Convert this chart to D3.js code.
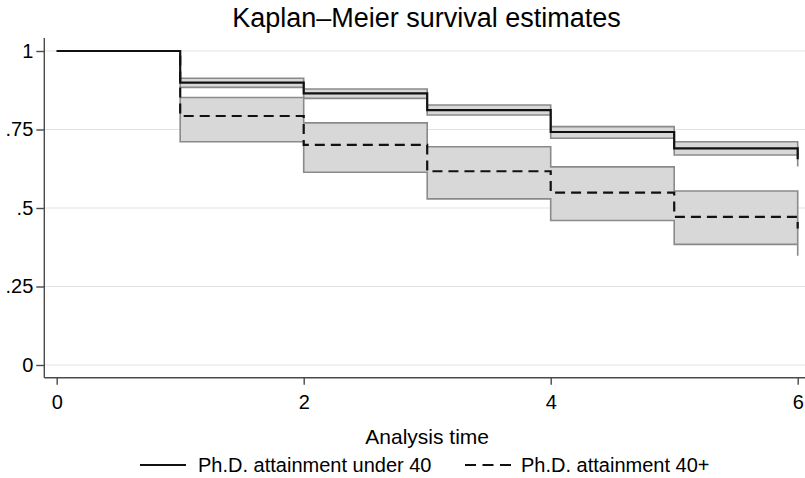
<!DOCTYPE html>
<html>
<head>
<meta charset="utf-8">
<script src="https://cdn.jsdelivr.net/npm/d3@7"></script>
<style>
  body { margin: 0; background: #fff; }
  text { font-family: "Liberation Sans", Arial, sans-serif; fill: #000; }
</style>
</head>
<body>
<script>
// Kaplan-Meier estimates
const times = [0, 1, 2, 3, 4, 5, 6];

// Ph.D. attainment under 40
const survUnder40 = [1, 0.899, 0.865, 0.812, 0.742, 0.690, 0.655];
const lowUnder40  = [null, 0.884, 0.849, 0.796, 0.722, 0.669, 0.632];
const highUnder40 = [null, 0.913, 0.879, 0.828, 0.759, 0.711, 0.680];

// Ph.D. attainment 40+
const surv40plus = [1, 0.793, 0.701, 0.617, 0.549, 0.472, 0.435];
const low40plus  = [null, 0.711, 0.614, 0.529, 0.460, 0.384, 0.348];
const high40plus = [null, 0.852, 0.771, 0.695, 0.631, 0.554, 0.520];

const xTicks = [0, 2, 4, 6];
const yTicks = [0, 0.25, 0.5, 0.75, 1];
const yTickLabels = ["0", ".25", ".5", ".75", "1"];

const groups = [
    { name: "Ph.D. attainment under 40", surv: survUnder40, low: lowUnder40, high: highUnder40, dash: null },
    { name: "Ph.D. attainment 40+", surv: surv40plus, low: low40plus, high: high40plus, dash: "10,6" }
];

const width = 805;
const height = 478;

const svg = d3.select("body")
    .append("svg")
    .attr("width", width)
    .attr("height", height);

// Scales
const x = d3.scaleLinear().domain([0, 6]).range([56.7, 797.7]);
const y = d3.scaleLinear().domain([0, 1]).range([365, 51]);

const plotLeft = 44.3, plotRight = 805, plotTop = 38, plotBottom = 377.7;

// Gridlines
svg.append("g")
    .selectAll("line")
    .data(yTicks)
    .join("line")
    .attr("x1", plotLeft)
    .attr("x2", plotRight)
    .attr("y1", d => y(d))
    .attr("y2", d => y(d))
    .attr("stroke", "#e3e3e3")
    .attr("stroke-width", 1);

// Confidence bands
const band = d3.area()
    .defined(d => d.low != null)
    .x(d => x(d.t))
    .y0(d => y(d.low))
    .y1(d => y(d.high))
    .curve(d3.curveStepAfter);

groups.forEach(g => {
    const pts = times.map((t, i) => ({ t: t, low: g.low[i], high: g.high[i] }));
    svg.append("path")
        .datum(pts)
        .attr("d", band)
        .attr("fill", "#d8d8d8")
        .attr("stroke", "#8a8a8a")
        .attr("stroke-width", 1.6);
});

// Survival step lines
const step = d3.line()
    .x(d => x(d.t))
    .y(d => y(d.s))
    .curve(d3.curveStepAfter);

groups.forEach(g => {
    const pts = times.map((t, i) => ({ t: t, s: g.surv[i] }));
    svg.append("path")
        .datum(pts)
        .attr("d", step)
        .attr("fill", "none")
        .attr("stroke", "#111")
        .attr("stroke-width", 2.2)
        .attr("stroke-dasharray", g.dash);
});

// Axes
const yAxis = svg.append("g")
    .attr("transform", `translate(${plotLeft},0)`)
    .call(d3.axisLeft(y).tickValues(yTicks).tickFormat((d, i) => yTickLabels[i]).tickSize(8).tickPadding(3));
yAxis.select(".domain").attr("d", `M0,${plotTop}V${plotBottom}`);

const xAxis = svg.append("g")
    .attr("transform", `translate(0,${plotBottom})`)
    .call(d3.axisBottom(x).tickValues(xTicks).tickFormat(d3.format("d")).tickSize(7).tickPadding(10));
xAxis.select(".domain").attr("d", `M${plotLeft},0H${plotRight}`);

svg.selectAll(".domain, .tick line").attr("stroke", "#4a4a4a").attr("stroke-width", 1.4);
svg.selectAll(".tick text").attr("font-size", 20).attr("font-family", "Liberation Sans, Arial, sans-serif").attr("fill", "#000");

// Titles
svg.append("text")
    .attr("x", 426.5)
    .attr("y", 27)
    .attr("text-anchor", "middle")
    .attr("font-size", 27)
    .text("Kaplan–Meier survival estimates");

svg.append("text")
    .attr("x", (x(0) + x(6)) / 2)
    .attr("y", 444)
    .attr("text-anchor", "middle")
    .attr("font-size", 21)
    .text("Analysis time");

// Legend
const legendX = [140, 465];
const legend = svg.append("g")
    .selectAll("g")
    .data(groups)
    .join("g")
    .attr("transform", (d, i) => `translate(${legendX[i]},465)`);

legend.append("line")
    .attr("x1", 0)
    .attr("x2", 46)
    .attr("stroke", "#111")
    .attr("stroke-width", 2)
    .attr("stroke-dasharray", d => d.dash ? "11,6.5" : null);

legend.append("text")
    .attr("x", (d, i) => i === 0 ? 58 : 56)
    .attr("y", 7)
    .attr("font-size", 20)
    .text(d => d.name);
</script>
</body>
</html>
